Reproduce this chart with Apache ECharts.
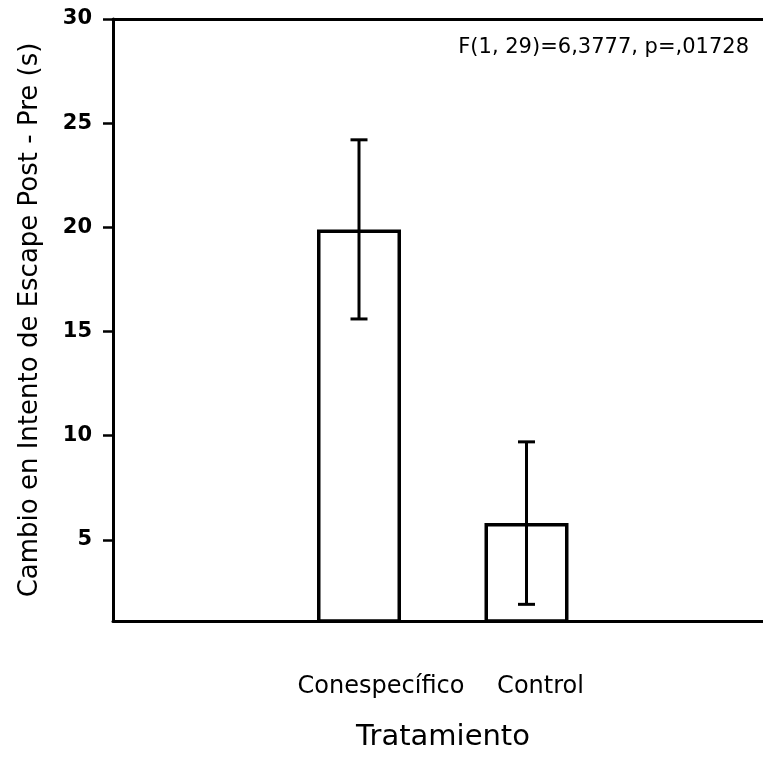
<!DOCTYPE html>
<html>
<head>
<meta charset="utf-8">
<script src="https://cdn.jsdelivr.net/npm/echarts@6/dist/echarts.min.js"></script>
<style>html,body{margin:0;padding:0;background:#fff}#c{width:763px;height:757px}</style>
</head>
<body>
<div id="c"></div>
<script>
const categories = ['Conespecífico', 'Control'];
const positions = [1, 2];
const means = [19.9, 5.8];
const errLow = [15.6, 1.9];
const errHigh = [24.2, 9.7];
const yTicks = [5, 10, 15, 20, 25, 30];
const statText = 'F(1, 29)=6,3777, p=,01728';
const xName = 'Tratamiento';
const yName = 'Cambio en Intento de Escape Post - Pre (s)';

const FONT = 'DejaVu Sans';
const chart = echarts.init(document.getElementById('c'));
chart.setOption({
  animation: false,
  backgroundColor: '#fff',
  title: {
    text: statText, right: 9, top: 32,
    textStyle: {fontFamily: FONT, fontSize: 21, fontWeight: 'normal', color: '#000'}
  },
  grid: {left: 113, right: 0, top: 19, bottom: 130},
  xAxis: [{
    type: 'value', min: -0.4687, max: 3.412, position: 'bottom',
    splitLine: {show: false},
    axisLine: {show: true, onZero: false, lineStyle: {color: '#000', width: 3}},
    axisTick: {show: false},
    axisLabel: {
      customValues: positions, margin: 54,
      formatter: function (v) {
        const i = positions.indexOf(v);
        return i < 0 ? '' : '{c' + i + '|' + categories[i] + '}';
      },
      rich: {
        c0: {fontFamily: FONT, fontSize: 24, color: '#000', padding: [0, 0, 0, 44]},
        c1: {fontFamily: FONT, fontSize: 24, color: '#000', padding: [0, 0, 0, 28]}
      }
    },
    name: xName, nameLocation: 'middle', nameGap: 102,
    nameTextStyle: {fontFamily: FONT, fontSize: 29, color: '#000', padding: [0, 0, 0, 10]}
  }, {
    type: 'value', min: -0.4687, max: 3.412, position: 'top',
    splitLine: {show: false},
    axisLine: {show: true, onZero: false, lineStyle: {color: '#000', width: 3}},
    axisTick: {show: false}, axisLabel: {show: false}
  }],
  yAxis: {
    type: 'value', min: 1.1, max: 30,
    splitLine: {show: false},
    axisLine: {show: true, onZero: false, lineStyle: {color: '#000', width: 3}},
    axisTick: {show: true, customValues: yTicks, inside: false, length: 10, lineStyle: {color: '#000', width: 2.5}},
    axisLabel: {customValues: yTicks, margin: 21, fontFamily: FONT, fontWeight: 'bold', fontSize: 21, color: '#000'},
    name: yName, nameLocation: 'middle', nameGap: 70,
    nameTextStyle: {fontFamily: FONT, fontSize: 26, color: '#000'}
  },
  series: [{
    type: 'bar', xAxisIndex: 0,
    data: positions.map((p, i) => [p, means[i]]),
    barWidth: 84,
    itemStyle: {color: '#fff', borderColor: '#000', borderWidth: 3.5},
    clip: true, z: 2
  }, {
    type: 'custom', xAxisIndex: 0,
    data: positions.map((p, i) => [p, errLow[i], errHigh[i]]),
    renderItem: function (params, api) {
      const lo = api.coord([api.value(0), api.value(1)]);
      const hi = api.coord([api.value(0), api.value(2)]);
      const w = 8.5;
      const st = {stroke: '#000', lineWidth: 3};
      return {type: 'group', children: [
        {type: 'line', shape: {x1: lo[0], y1: lo[1], x2: hi[0], y2: hi[1]}, style: st},
        {type: 'line', shape: {x1: lo[0] - w, y1: lo[1], x2: lo[0] + w, y2: lo[1]}, style: st},
        {type: 'line', shape: {x1: hi[0] - w, y1: hi[1], x2: hi[0] + w, y2: hi[1]}, style: st}
      ]};
    },
    z: 3
  }]
});
</script>
</body>
</html>
